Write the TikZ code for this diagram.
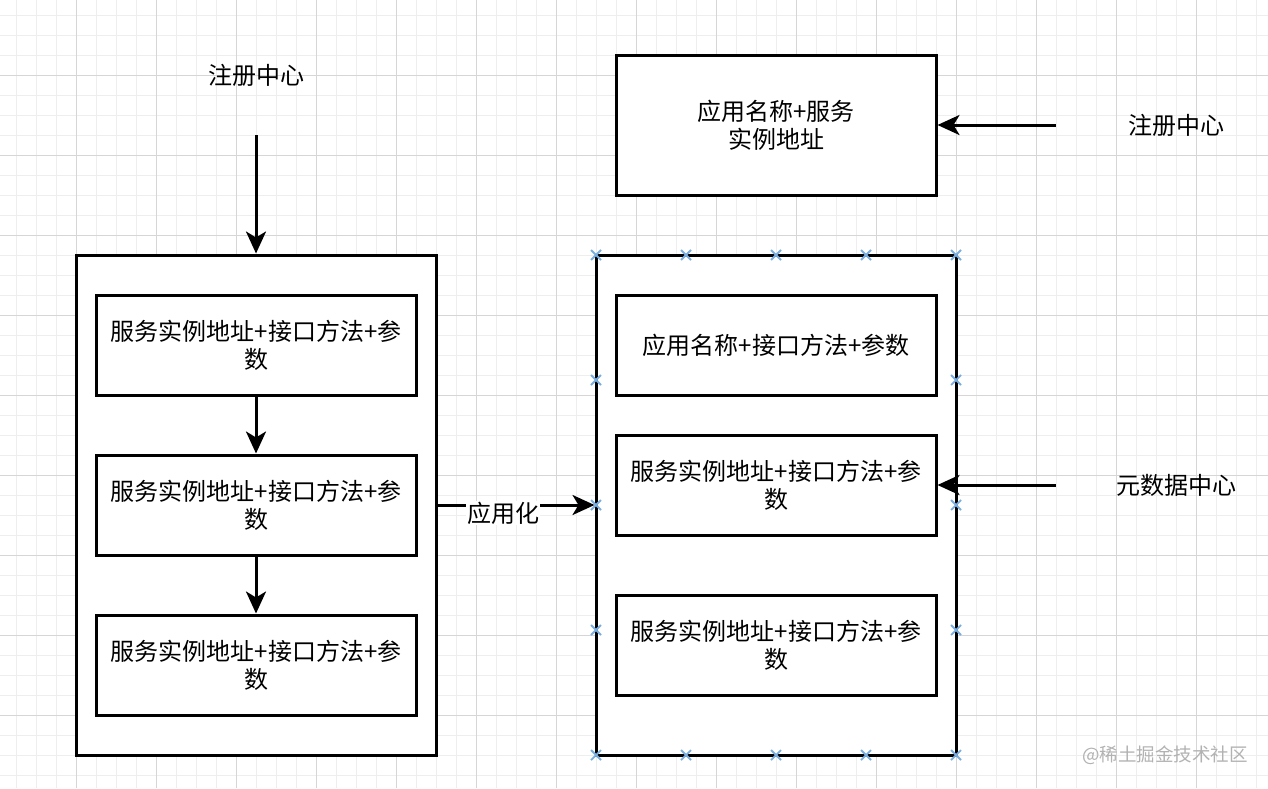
\documentclass[tikz,border=0pt]{standalone}
\usepackage{fontspec}
\setmainfont{Noto Sans CJK SC}
\usetikzlibrary{arrows.meta}
\definecolor{gridminor}{HTML}{EEEEEE}
\definecolor{gridmajor}{HTML}{D6D6D6}
\definecolor{handle}{HTML}{7AAEE0}
\tikzset{
  box/.style={draw=black, line width=3pt, fill=white, inner sep=0pt, align=center,
    font=\fontsize{24}{28}\selectfont},
  outerbox/.style={box, minimum width=360pt, minimum height=500pt},
  innerbox/.style={box, minimum width=320pt, minimum height=100pt},
  lbl/.style={inner sep=1pt, font=\fontsize{24}{28}\selectfont},
  arr/.style={line width=3pt, -{Stealth[length=22pt, width=20pt, inset=6pt]}},
  handlemark/.style={draw=handle, line width=1.8pt}
}
\begin{document}
\begin{tikzpicture}[x=1pt, y=-1pt]
\useasboundingbox (0,0) rectangle (1268,788);
\fill[white] (0,0) rectangle (1268,788);
% grid
\foreach \x in {16.5,36.5,...,1268} \draw[gridminor, line width=1pt] (\x,0) -- (\x,788);
\foreach \y in {15,35,...,788} \draw[gridminor, line width=1pt] (0,\y) -- (1268,\y);
\foreach \x in {76.5,156.5,...,1268} \draw[gridmajor, line width=1pt] (\x,0) -- (\x,788);
\foreach \y in {75,155,...,788} \draw[gridmajor, line width=1pt] (0,\y) -- (1268,\y);

% left column
\node[lbl] (regL) at (256,75) {注册中心};
\coordinate (regLend) at (256,135);
\node[outerbox] (lout) at (256,505) {};
\node[innerbox] (l1) at (256,345) {服务实例地址+接口方法+参\\数};
\node[innerbox] (l2) at (256,505) {服务实例地址+接口方法+参\\数};
\node[innerbox] (l3) at (256,665) {服务实例地址+接口方法+参\\数};
\draw[arr] (regLend) -- (lout.north);
\draw[arr] (l1.south) -- (l2.north);
\draw[arr] (l2.south) -- (l3.north);

% right column
\node[box, minimum width=320pt, minimum height=140pt] (top) at (776,125) {应用名称+服务\\实例地址};
\node[outerbox] (rout) at (776,505) {};
\node[innerbox] (r1) at (776,345) {应用名称+接口方法+参数};
\node[innerbox] (r2) at (776,485) {服务实例地址+接口方法+参\\数};
\node[innerbox] (r3) at (776,645) {服务实例地址+接口方法+参\\数};

\node[lbl] (regR) at (1176,125) {注册中心};
\coordinate (regRend) at (1056,125);
\draw[arr] (regRend) -- (top.east);
\node[lbl] (meta) at (1176,485) {元数据中心};
\coordinate (metaend) at (1056,485);
\draw[arr] (metaend) -- (r2.east);

% transformation arrow
\draw[arr] (lout.east |- 0,505) -- (rout.west)
  node[pos=.42, yshift=-8pt, fill=white, lbl] (apply) {应用化};

% selection handles
\foreach \x/\y in {596/255,686/255,776/255,866/255,956/255,
                   596/755,686/755,776/755,866/755,956/755,
                   596/380,596/505,596/630,956/380,956/505,956/630}
  \draw[handlemark] (\x-5,\y-5) -- (\x+5,\y+5) (\x-5,\y+5) -- (\x+5,\y-5);

% watermark
\node[inner sep=0pt, text=black!30, font=\fontsize{18.5}{22}\selectfont] (wm) at (1165,755) {@稀土掘金技术社区};
\end{tikzpicture}
\end{document}
